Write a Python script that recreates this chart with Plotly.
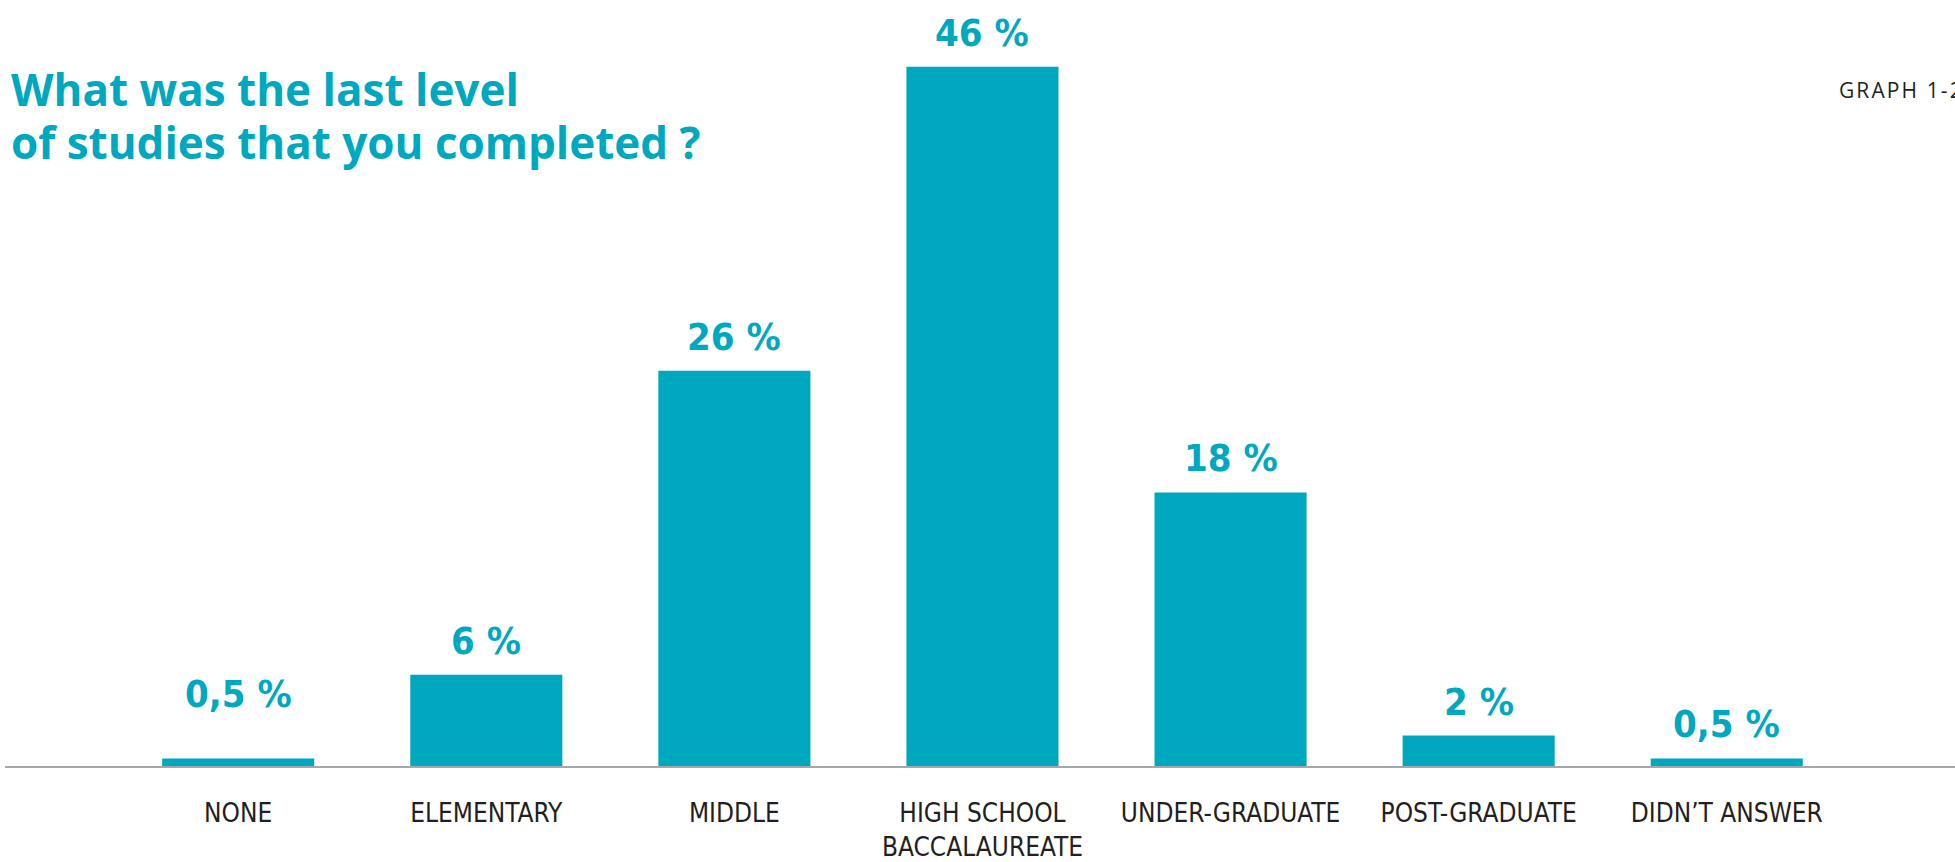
import plotly.graph_objects as go

# Survey answers: last level of studies completed
categories = ["NONE", "ELEMENTARY", "MIDDLE", "HIGH SCHOOL<br>BACCALAUREATE",
              "UNDER-GRADUATE", "POST-GRADUATE", "DIDN’T ANSWER"]
shares = [0.5, 6, 26, 46, 18, 2, 0.5]
value_labels = ["0,5 %", "6 %", "26 %", "46 %", "18 %", "2 %", "0,5 %"]

TEAL = "#00a8bf"
INK = "#231f20"
NARROW = "Liberation Sans Narrow, DejaVu Sans Condensed, sans-serif"

# extra lift (px) for the value label above the first bar
label_lift = {"NONE": 30}

fig = go.Figure()
fig.add_trace(go.Bar(
    x=categories,
    y=shares,
    width=0.613,
    marker=dict(color=TEAL, line=dict(width=0)),
    hoverinfo="skip",
))

annotations = []
for cat, val, lab in zip(categories, shares, value_labels):
    annotations.append(dict(
        x=cat, y=val, xref="x", yref="y",
        text=lab, showarrow=False,
        xanchor="center", yanchor="bottom", yshift=10 + label_lift.get(cat, 0),
        font=dict(family=NARROW, size=38, color=TEAL, weight="bold"),
    ))

# Title in two lines, tighter leading than the default
title_font = dict(family="Open Sans, sans-serif", size=44, color=TEAL, weight="bold")
annotations.append(dict(
    x=0.0022, y=0.884, xref="paper", yref="paper",
    text="What was the last level", showarrow=False,
    xanchor="left", yanchor="middle", font=title_font,
))
annotations.append(dict(
    x=0.0022, y=0.814, xref="paper", yref="paper",
    text="of studies that you completed ?", showarrow=False,
    xanchor="left", yanchor="middle", font=title_font,
))

# Letter-spaced figure reference in the top-right corner
tracked = "\u200a".join("GRAPH 1-2")
annotations.append(dict(
    x=0.9395, y=0.8825, xref="paper", yref="paper",
    text=tracked, showarrow=False,
    xanchor="left", yanchor="middle",
    font=dict(family="Open Sans, sans-serif", size=21, color=INK),
))

fig.update_layout(
    width=1955, height=862,
    margin=dict(l=5, r=0, t=0, b=96),
    paper_bgcolor="white", plot_bgcolor="white",
    showlegend=False,
    annotations=annotations,
    xaxis=dict(
        range=[-0.94, 6.92],
        showline=True, linecolor="#a3a8ac", linewidth=2,
        layer="below traces",
        showgrid=False, zeroline=False, ticks="",
        ticklabelstandoff=23,
        tickfont=dict(family=NARROW, size=26, color=INK),
        fixedrange=True,
    ),
    yaxis=dict(
        range=[0, 50.4],
        visible=False, showgrid=False, zeroline=False,
        fixedrange=True,
    ),
)

fig.write_html("out.html")
